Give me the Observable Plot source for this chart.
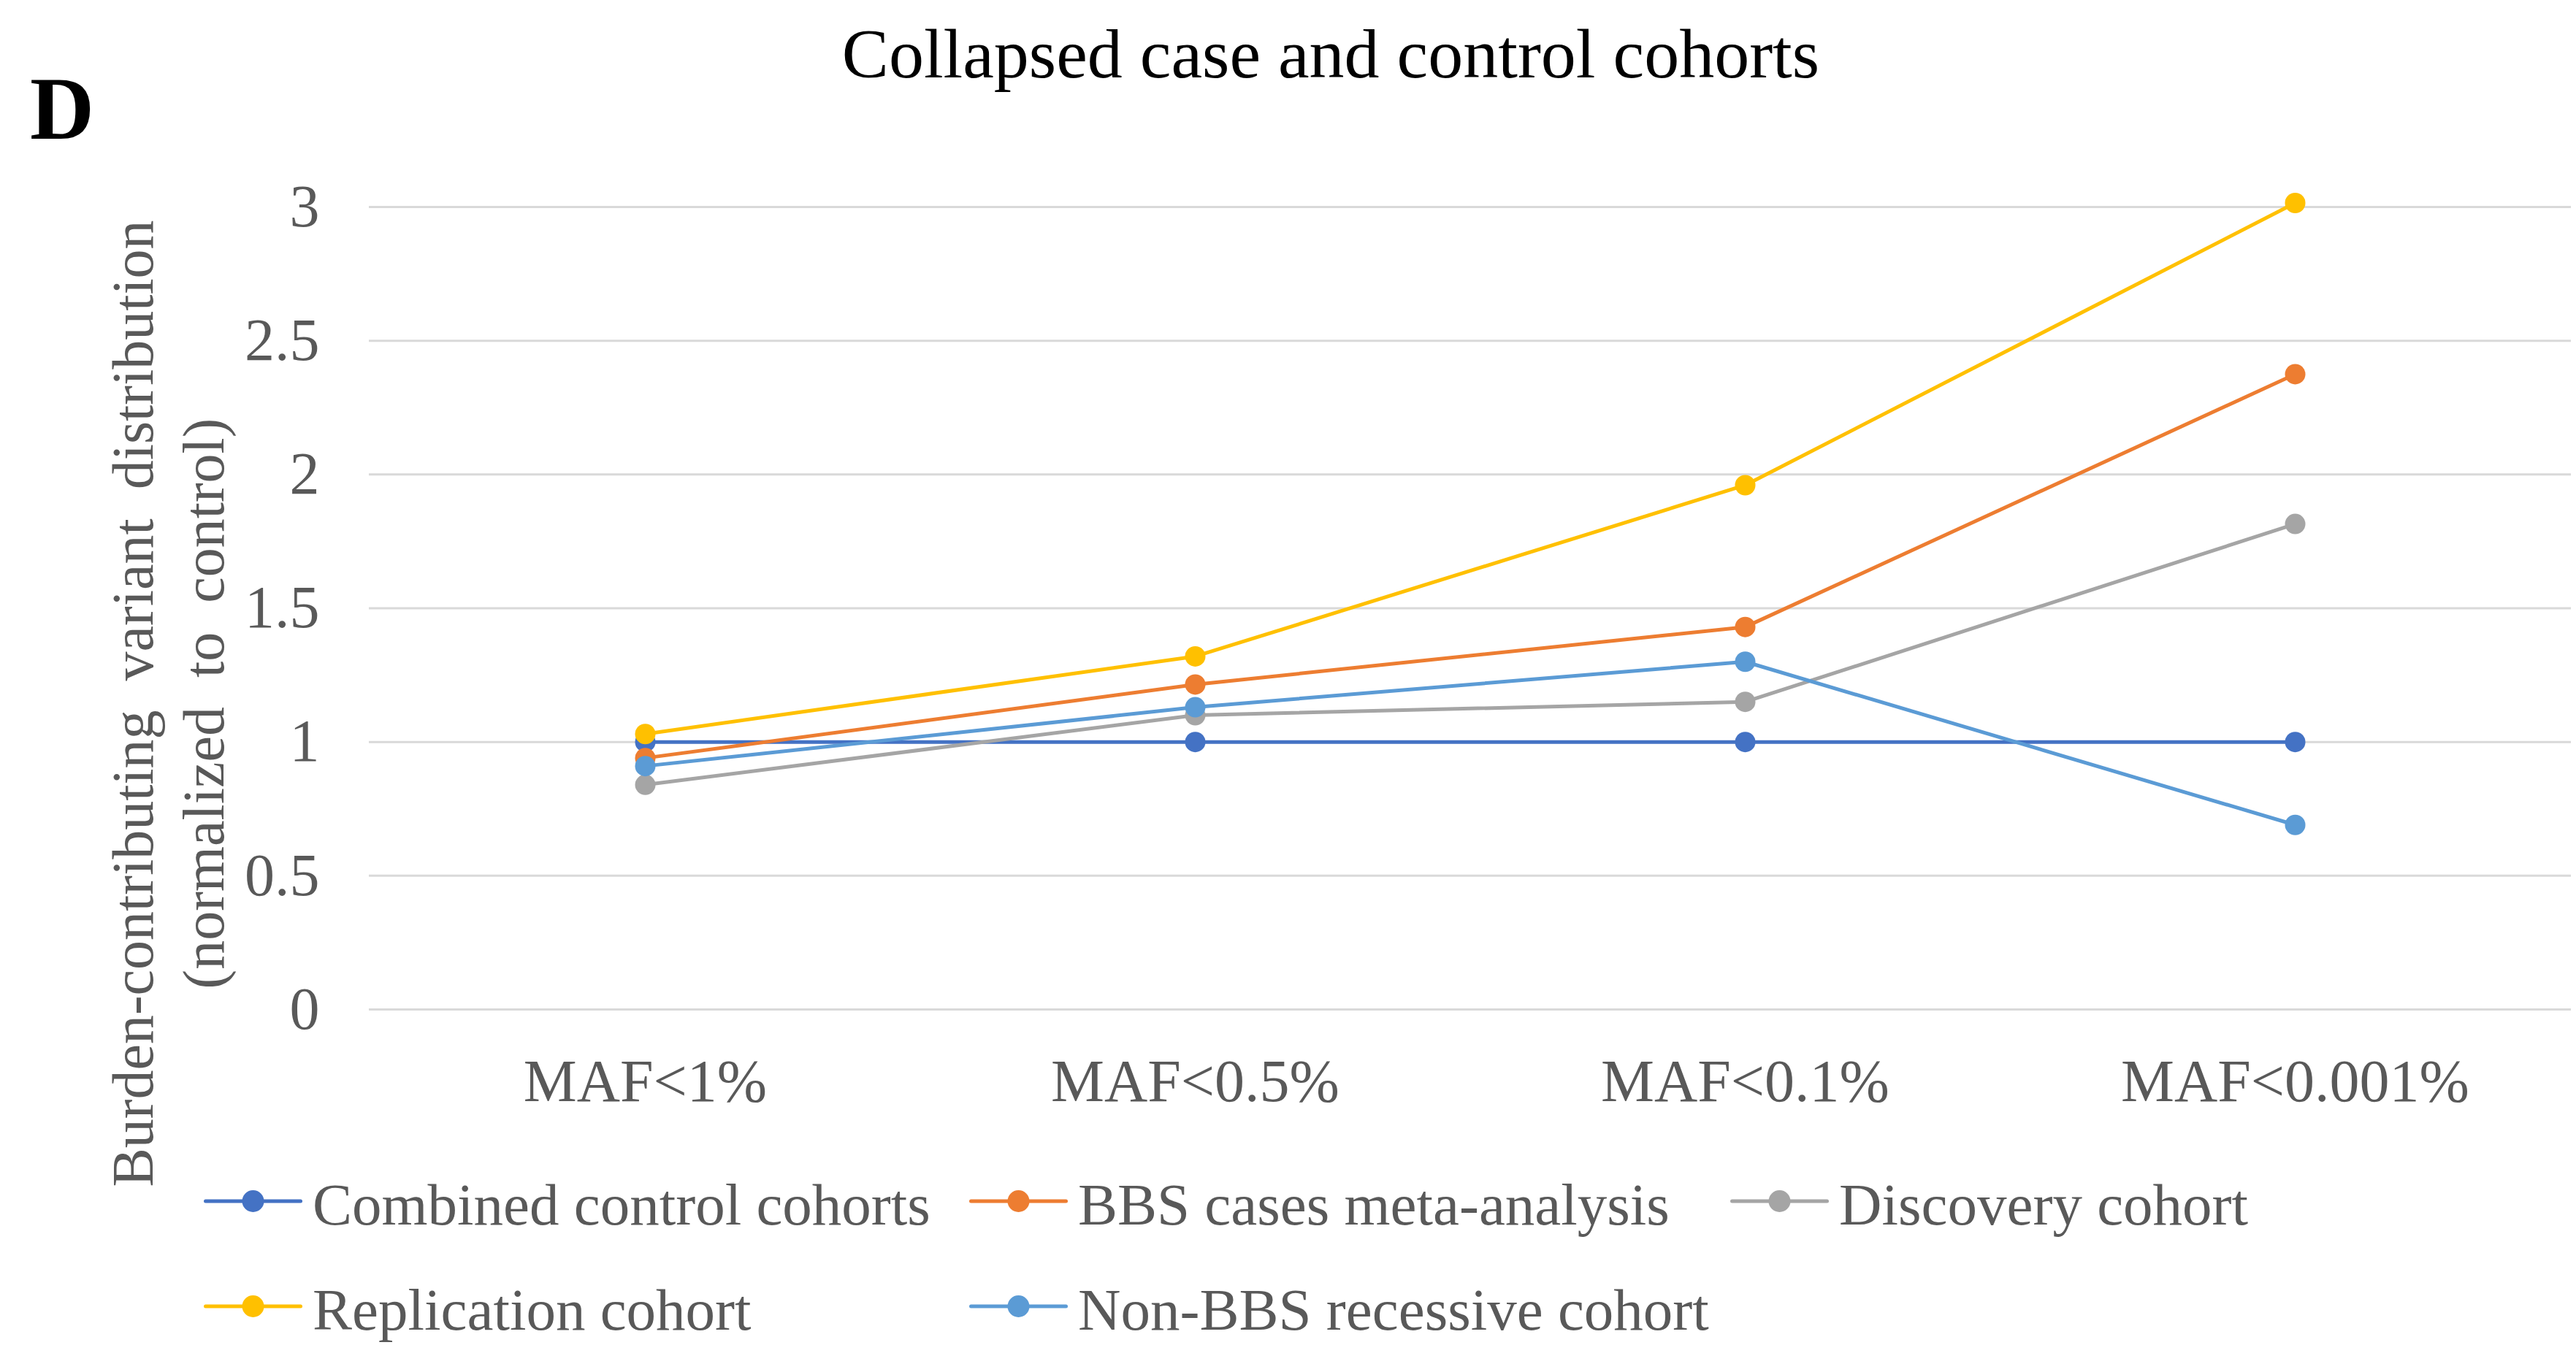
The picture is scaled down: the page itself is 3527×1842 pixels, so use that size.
<!DOCTYPE html>
<html><head><meta charset="utf-8">
<script src="https://cdn.jsdelivr.net/npm/d3@7"></script>
<script src="https://cdn.jsdelivr.net/npm/@observablehq/plot@0.6"></script>
<style>
html,body{margin:0;padding:0;background:#fff;}
#chart{position:relative;width:3527px;height:1842px;font-family:"Liberation Serif","Times New Roman",serif;overflow:hidden;}
#header{position:relative;height:200px;}
#title{position:absolute;left:1822px;top:26px;transform:translateX(-50%);font-size:96px;line-height:1;color:#000;white-space:nowrap;}
#panel{position:absolute;left:41px;top:88px;font-size:122px;font-weight:bold;line-height:1;color:#000;}
#plot svg{display:block;}
#legend{position:relative;margin-top:-20px;padding-left:279px;display:grid;grid-template-columns:1048px 1042px 1042px;row-gap:63px;}
.item{display:flex;align-items:center;height:81px;font-size:81px;line-height:1;color:#595959;white-space:nowrap;}
.item svg{position:relative;top:-6px;margin-right:14px;flex:none;}
</style></head><body>
<div id="chart">
  <div id="header"><div id="title">Collapsed case and control cohorts</div><div id="panel">D</div></div>
  <div id="plot"></div>
  <div id="legend"></div>
</div>
<script>
// ---- data ----
const categories = ["MAF<1%", "MAF<0.5%", "MAF<0.1%", "MAF<0.001%"];
const seriesNames = ["Combined control cohorts", "BBS cases meta-analysis", "Discovery cohort", "Replication  cohort", "Non-BBS recessive cohort"];
const seriesColors = ["#4472C4", "#ED7D31", "#A5A5A5", "#FFC000", "#5B9BD5"];
const combinedControl = [1.0, 1.0, 1.0, 1.0];
const bbsMeta = [0.94, 1.215, 1.43, 2.375];
const discovery = [0.84, 1.10, 1.15, 1.815];
const replication = [1.03, 1.32, 1.96, 3.015];
const nonBBS = [0.91, 1.13, 1.30, 0.69];
const yTicks = [0, 0.5, 1, 1.5, 2, 2.5, 3];
const yTickLabels = ["0", "0.5", "1", "1.5", "2", "2.5", "3"];
const yLabel = "Burden-contributing  variant  distribution\n(normalized  to  control)";

const seriesValues = [combinedControl, bbsMeta, discovery, replication, nonBBS];
const rows = seriesNames.flatMap((s, si) => categories.map((c, ci) => ({series: s, cat: c, value: seriesValues[si][ci]})));

// page y of plot: svg starts at 200; top gridline at 283, zero line at 1382
const marks = [
  Plot.ruleY(yTicks, {stroke: "#D9D9D9", strokeWidth: 3}),
  Plot.axisY(yTicks, {tickSize: 0, tickPadding: 68, fontSize: 82, fill: "#595959", label: null,
    tickFormat: d => yTickLabels[yTicks.indexOf(d)]}),
  Plot.axisX({tickSize: 0, tickPadding: 67, fontSize: 82, fill: "#595959", label: null}),
  Plot.text([yLabel], {frameAnchor: "left", text: d => d, rotate: -90, dx: -279, dy: 130.5,
    lineHeight: 1.21, fontSize: 80, textAnchor: "middle", fill: "#595959"})
];
seriesNames.forEach((s, si) => {
  const d = rows.filter(r => r.series === s);
  marks.push(Plot.line(d, {x: "cat", y: "value", stroke: seriesColors[si], strokeWidth: 5,
    strokeLinejoin: "round", strokeLinecap: "round"}));
  marks.push(Plot.dot(d, {x: "cat", y: "value", fill: seriesColors[si], r: 14}));
});

const chart = Plot.plot({
  width: 3527,
  height: 1430,
  marginTop: 83,
  marginBottom: 248,
  marginLeft: 505,
  marginRight: 7,
  style: {fontFamily: '"Liberation Serif","Times New Roman",serif', fontSize: "82px", color: "#595959", background: "transparent"},
  x: {type: "point", domain: categories, padding: 0.5, label: null},
  y: {domain: [0, 3], label: null},
  marks
});
document.getElementById("plot").appendChild(chart);

// legend
const legend = document.getElementById("legend");
seriesNames.forEach((s, si) => {
  const item = document.createElement("div");
  item.className = "item";
  const ns = "http://www.w3.org/2000/svg";
  const svg = document.createElementNS(ns, "svg");
  svg.setAttribute("width", 135); svg.setAttribute("height", 40);
  const ln = document.createElementNS(ns, "line");
  ln.setAttribute("x1", 2.5); ln.setAttribute("x2", 132.5); ln.setAttribute("y1", 20); ln.setAttribute("y2", 20);
  ln.setAttribute("stroke", seriesColors[si]); ln.setAttribute("stroke-width", 5); ln.setAttribute("stroke-linecap", "round");
  const c = document.createElementNS(ns, "circle");
  c.setAttribute("cx", 67.5); c.setAttribute("cy", 20); c.setAttribute("r", 15); c.setAttribute("fill", seriesColors[si]);
  svg.appendChild(ln); svg.appendChild(c);
  const t = document.createElement("span");
  t.textContent = s;
  item.appendChild(svg); item.appendChild(t);
  legend.appendChild(item);
});
</script>
</body></html>
